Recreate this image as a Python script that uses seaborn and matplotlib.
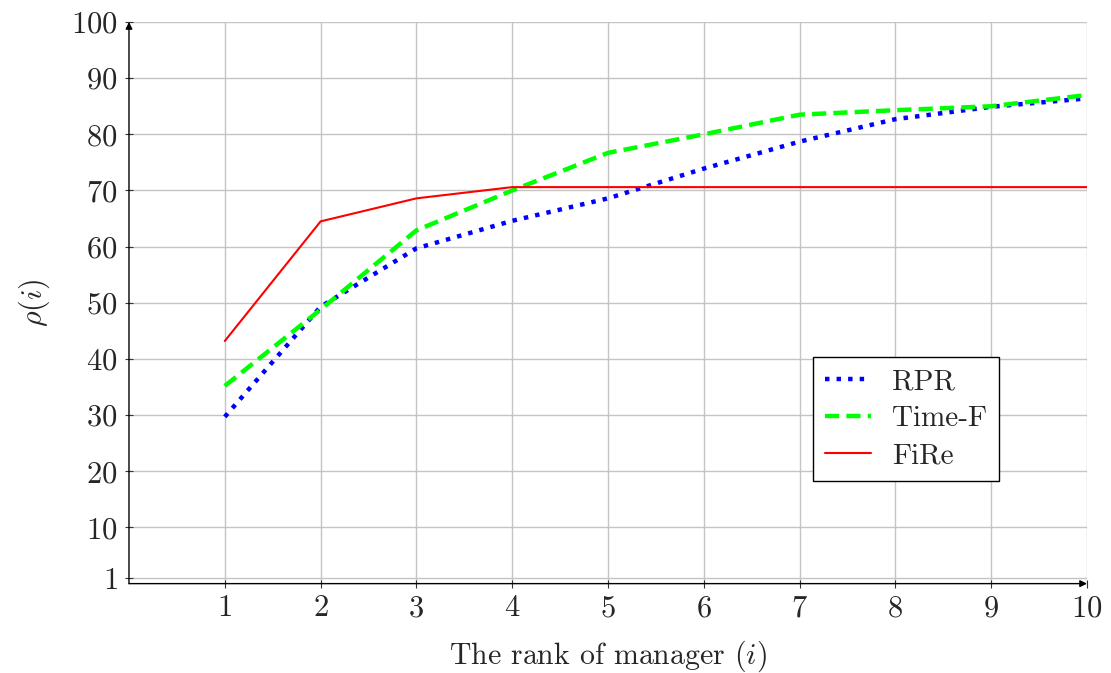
import matplotlib
matplotlib.use("Agg")
import matplotlib.pyplot as plt
import seaborn as sns
import pandas as pd

ranks = [1, 2, 3, 4, 5, 6, 7, 8, 9, 10]
rpr = [29.7, 49.3, 59.7, 64.6, 68.6, 73.9, 78.7, 82.7, 84.9, 86.4]
time_f = [35.2, 48.8, 62.9, 70.0, 76.7, 80.0, 83.5, 84.3, 85.0, 87.0]
fire = [43.2, 64.5, 68.6, 70.6, 70.6, 70.6, 70.6, 70.6, 70.6, 70.6]
series_names = ["RPR", "Time-F", "FiRe"]
x_ticks = [1, 2, 3, 4, 5, 6, 7, 8, 9, 10]
y_ticks = [1, 10, 20, 30, 40, 50, 60, 70, 80, 90, 100]

sns.set_theme(style="white")
plt.rcParams["font.family"] = ["cmr10", "DejaVu Serif"]
plt.rcParams["mathtext.fontset"] = "cm"
plt.rcParams["axes.formatter.use_mathtext"] = True

fig = plt.figure(figsize=(11.11, 6.73), dpi=100)
ax = fig.add_axes([0.1161, 0.1328, 0.8623, 0.8345])

df = pd.DataFrame({"x": ranks * 3,
                   "y": rpr + time_f + fire,
                   "s": [series_names[0]] * 10 + [series_names[1]] * 10 + [series_names[2]] * 10})

styles = {
    "RPR": dict(color="#0000ff", lw=3.2, dashes=(1.0, 1.6)),
    "Time-F": dict(color="#00ff00", lw=3.2, dashes=(3.2, 1.6)),
    "FiRe": dict(color="#ff0000", lw=1.5, dashes=None),
}
for name in series_names:
    st = styles[name]
    sub = df[df["s"] == name]
    sns.lineplot(data=sub, x="x", y="y", ax=ax, color=st["color"], linewidth=st["lw"],
                 label=name, zorder=3)
    line = ax.lines[-1]
    if st["dashes"] is not None:
        line.set_dashes(st["dashes"])
        line.set_dash_capstyle("butt")

ax.set_xlim(0, 10)
ax.set_ylim(0, 100)
ax.set_xticks(x_ticks)
ax.set_yticks(y_ticks)
ax.grid(True, color="#c4c4c4", linewidth=1.0, zorder=0)
for s in ax.spines.values():
    s.set_visible(False)
ax.tick_params(axis="both", which="both", direction="inout", length=6, width=0.8,
               color="#333333", labelsize=22, pad=5, left=True, bottom=True)

ax.annotate("", xy=(1.0, 0), xytext=(0, 0), xycoords="axes fraction",
            arrowprops=dict(arrowstyle="-|>", color="black", lw=1.0, mutation_scale=10,
                            shrinkA=0, shrinkB=0), zorder=5)
ax.annotate("", xy=(0, 1.0), xytext=(0, 0), xycoords="axes fraction",
            arrowprops=dict(arrowstyle="-|>", color="black", lw=1.0, mutation_scale=10,
                            shrinkA=0, shrinkB=0), zorder=5)

ax.set_xlabel("The rank of manager ($i$)", fontsize=21.5, labelpad=12)
ax.set_ylabel(r"$\rho(i)$", fontsize=21.5, labelpad=14)

leg = ax.legend(loc="lower left", bbox_to_anchor=(0.714, 0.183), fontsize=21,
                frameon=True, fancybox=False, framealpha=1, edgecolor="black",
                handlelength=1.6, borderpad=0.4, labelspacing=0.36, handletextpad=0.7,
                borderaxespad=0)
leg.get_frame().set_linewidth(1.0)

fig.savefig("out.png", dpi=100)
